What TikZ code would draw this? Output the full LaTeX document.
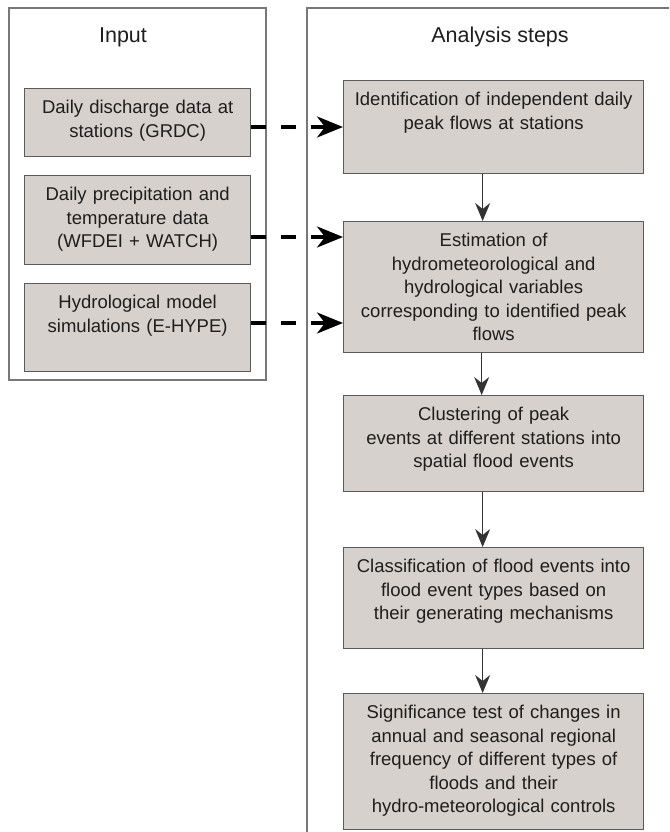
\documentclass[tikz,border=0pt]{standalone}
\usepackage{fontspec}
\setmainfont{Liberation Sans}
\usepackage{tikz}
\usetikzlibrary{calc,positioning,arrows.meta}
\definecolor{boxfill}{RGB}{214,209,204}
\definecolor{boxline}{RGB}{90,90,90}
\definecolor{frameline}{RGB}{120,120,120}
\definecolor{inktext}{RGB}{30,30,30}
\tikzstyle{box}       = [draw=boxline, line width=1.3pt, fill=boxfill, text=inktext, align=center, anchor=north west, inner xsep=4pt, inner ysep=0pt, text height=25pt, font=\fontsize{18.5}{23.5}\selectfont]
\tikzstyle{inbox}     = [box, text width=218pt]
\tikzstyle{stepbox}   = [box, text width=292pt]
\tikzstyle{head}      = [text=inktext, font=\fontsize{21.5}{26}\selectfont]
\tikzstyle{frame}     = [draw=frameline, line width=1.3pt]
\tikzstyle{feed}      = [line width=3.5pt, dash pattern=on 15pt off 15pt, -{Stealth[length=26pt, width=21pt, inset=8pt]}]
\tikzstyle{flow}      = [line width=1pt, draw=black!80, -{Stealth[length=18pt, width=15pt, inset=6pt]}]

\begin{document}
\begin{tikzpicture}[x=1pt, y=-1pt]
		\useasboundingbox (0,0) rectangle (669,832);
		\clip (0,0) rectangle (669,832);
		\draw[frame] (9,8) rectangle (266,380);
		\draw[frame] (680,8) -- (307,8) -- (307,845);
		\node[head] (inhead) at (123,37) {Input};
		\node[head] (anhead) at (500,37) {Analysis steps};

		\node[inbox, text depth=43pt] (in1) at (24,88) {Daily discharge data at\\ stations (GRDC)};
		\node[inbox, text depth=64pt] (in2) at (24,175) {Daily precipitation and\\ temperature data\\ (WFDEI + WATCH)};
		\node[inbox, text depth=63pt] (in3) at (24,283) {Hydrological model\\ simulations (E-HYPE)};

		\node[stepbox, text depth=68pt] (s1) at (343,80) {Identification of independent daily\\ peak flows at stations};
		\node[stepbox, text depth=106pt] (s2) at (343,221) {Estimation of\\ hydrometeorological and\\ hydrological variables\\ corresponding to identified peak\\ flows};
		\node[stepbox, text depth=71pt] (s3) at (343,395) {Clustering of peak\\ events at different stations into\\ spatial flood events};
		\node[stepbox, text depth=76pt] (s4) at (343,547) {Classification of flood events into\\ flood event types based on\\ their generating mechanisms};
		\node[stepbox, text depth=111pt] (s5) at (343,693) {Significance test of changes in\\ annual and seasonal regional\\ frequency of different types of\\ floods and their\\ hydro-meteorological controls};

		\draw[feed] (in1.east |- 0,127) -- (s1.west |- 0,127);
		\draw[feed] (in2.east |- 0,237) -- (s2.west |- 0,237);
		\draw[feed] (in3.east |- 0,323) -- (s2.west |- 0,323);

		\draw[flow] ([xshift=-11pt]s1.south) -- ([xshift=-11pt]s2.north);
		\draw[flow] ([xshift=-12pt]s2.south) -- ([xshift=-12pt]s3.north);
		\draw[flow] ([xshift=-11pt]s3.south) -- ([xshift=-11pt]s4.north);
		\draw[flow] ([xshift=-11pt]s4.south) -- ([xshift=-11pt]s5.north);
	\end{tikzpicture}
\end{document}
